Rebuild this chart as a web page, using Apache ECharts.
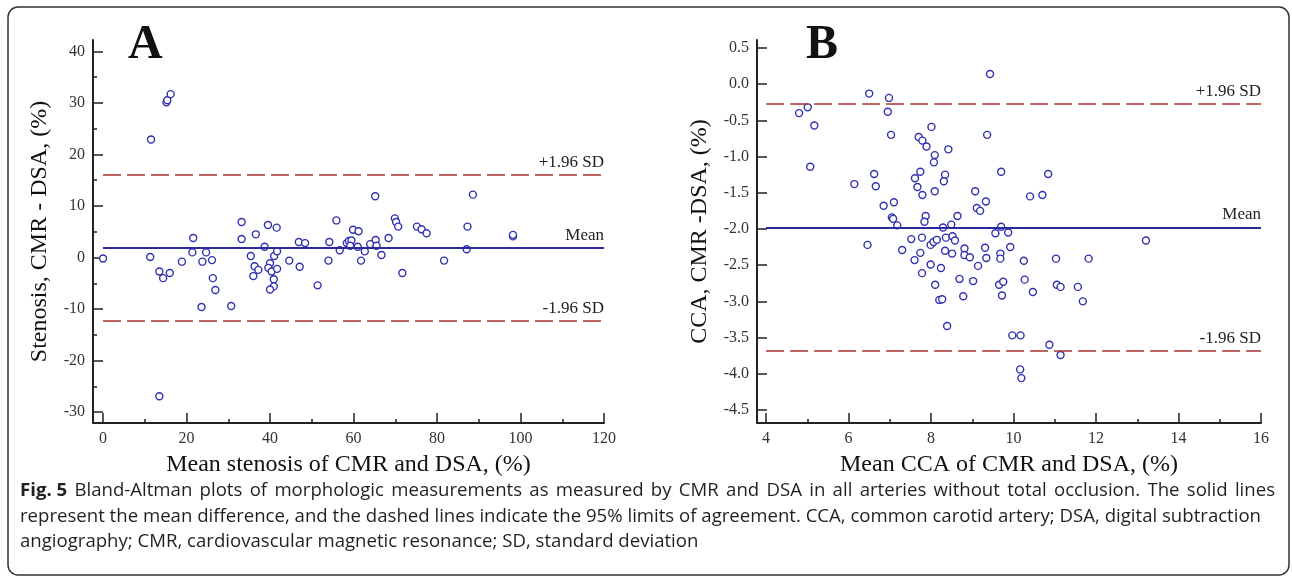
<!DOCTYPE html>
<html>
<head>
<meta charset="utf-8">
<script src="https://cdn.jsdelivr.net/npm/echarts@6/dist/echarts.min.js"></script>
<style>
  html, body { margin: 0; padding: 0; background: #fff; }
  #chart { width: 1292px; height: 580px; }
</style>
</head>
<body>
<div id="chart"></div>
<script>
// panel A: stenosis (%), mean of CMR & DSA vs difference
var stenosisMean = [0, 11.5, 15.2, 15.4, 16.2, 11.3, 13.5, 14.4, 16, 13.5, 18.9, 21.6, 21.4, 23.8, 24.7, 26.1, 26.3, 26.9, 23.6, 30.7,
  33.2, 33.2, 36.6, 35.4, 36.3, 37.2, 36, 38.7, 39.5, 41.6, 41, 41.7, 40, 39.6, 40.4, 41.7, 40.9, 40.9, 40, 44.6,
  47.1, 46.9, 48.4, 51.4, 54.0, 54.2, 55.9, 56.7, 58.4, 58.9, 59.5, 59.2, 59.9, 61.2, 61, 61.8, 62.7, 64, 65.3, 65.5,
  65.2, 66.7, 68.4, 69.9, 70.2, 70.7, 71.7, 75.2, 76.3, 77.5, 81.7, 87.3, 87.1, 88.6, 98.2, 98.2];
var stenosisDiff = [-0.2, 22.9, 30.1, 30.5, 31.7, 0.1, -2.7, -4.0, -3, -26.9, -0.8, 3.8, 1.0, -0.8, 1.0, -0.5, -4.0, -6.3, -9.6, -9.4,
  6.9, 3.6, 4.5, 0.3, -1.7, -2.4, -3.6, 2.1, 6.3, 5.8, 0.3, 1.2, -1.1, -2.0, -2.7, -2.2, -4.2, -5.6, -6.2, -0.6,
  -1.8, 3.0, 2.8, -5.4, -0.6, 3.0, 7.2, 1.4, 2.8, 3.2, 3.3, 2.3, 5.4, 5.1, 2.1, -0.6, 1.2, 2.6, 3.4, 2.3,
  11.9, 0.5, 3.8, 7.6, 6.9, 6.0, -3.0, 6.0, 5.5, 4.7, -0.6, 6.0, 1.6, 12.2, 4.1, 4.4];
var stenosisLimits = [16.0, 1.9, -12.3];

// panel B: CCA (%)
var ccaMean = [4.80, 5.01, 5.17, 5.07, 6.50, 6.98, 6.95, 7.03, 6.14, 6.62, 6.66, 6.85, 7.10, 8.01, 7.70, 7.79, 7.89, 8.09, 8.07, 7.74,
  7.61, 7.67, 7.79, 8.09, 7.05, 7.08, 7.18, 7.87, 7.84, 6.46, 7.30, 7.52, 7.78, 7.74, 7.60, 7.99, 8.06, 8.14, 7.99, 7.78,
  8.10, 8.20, 9.43, 9.36, 8.42, 8.34, 8.31, 9.70, 10.84, 9.07, 9.33, 9.11, 10.40, 10.70, 9.19, 8.64, 8.49, 8.29, 9.70, 9.56,
  9.87, 8.36, 8.52, 8.58, 8.34, 8.51, 8.81, 8.81, 8.94, 9.31, 9.34, 9.92, 9.68, 9.68, 9.14, 10.25, 11.03, 11.82, 8.24, 8.69,
  9.02, 9.65, 9.75, 10.27, 11.05, 11.14, 11.56, 10.47, 8.27, 8.78, 9.72, 11.68, 8.39, 9.97, 10.17, 10.87, 11.14, 10.16, 10.19, 13.21];
var ccaDiff = [-0.40, -0.32, -0.57, -1.14, -0.13, -0.19, -0.38, -0.70, -1.38, -1.24, -1.41, -1.68, -1.63, -0.59, -0.73, -0.78, -0.86, -0.98, -1.08, -1.21,
  -1.30, -1.42, -1.53, -1.48, -1.84, -1.86, -1.95, -1.82, -1.90, -2.22, -2.29, -2.14, -2.12, -2.33, -2.43, -2.22, -2.18, -2.15, -2.49, -2.61,
  -2.77, -2.98, 0.14, -0.70, -0.90, -1.25, -1.34, -1.21, -1.24, -1.48, -1.62, -1.71, -1.55, -1.53, -1.75, -1.82, -1.94, -1.98, -1.97, -2.06,
  -2.05, -2.12, -2.10, -2.16, -2.30, -2.34, -2.27, -2.36, -2.39, -2.26, -2.40, -2.25, -2.34, -2.41, -2.51, -2.44, -2.41, -2.41, -2.54, -2.69,
  -2.72, -2.77, -2.73, -2.70, -2.77, -2.80, -2.80, -2.87, -2.97, -2.93, -2.92, -3.00, -3.34, -3.47, -3.47, -3.60, -3.74, -3.94, -4.06, -2.16];
var ccaLimits = [-0.27, -1.98, -3.68];

var limitNames = ['+1.96 SD', 'Mean', '-1.96 SD'];
var stenosisTicksX = [0, 20, 40, 60, 80, 100, 120];
var stenosisMinorX = [10, 30, 50, 70, 90, 110];
var stenosisTicksY = [-30, -20, -10, 0, 10, 20, 30, 40];
var stenosisMinorY = [-25, -15, -5, 5, 15, 25, 35];
var ccaTicksX = [4, 6, 8, 10, 12, 14, 16];
var ccaMinorX = [5, 7, 9, 11, 13, 15];
var ccaTicksY = [-4.5, -4.0, -3.5, -3.0, -2.5, -2.0, -1.5, -1.0, -0.5, 0.0, 0.5];

var captionBold = 'Fig. 5';
var captionLines = [
  'Bland-Altman plots of morphologic measurements as measured by CMR and DSA in all arteries without total occlusion. The solid lines',
  'represent the mean difference, and the dashed lines indicate the 95% limits of agreement. CCA, common carotid artery; DSA, digital subtraction',
  'angiography; CMR, cardiovascular magnetic resonance; SD, standard deviation'
];

var serif = 'Liberation Serif';
var textCol = '#222';
var axisCol = '#222';

function zip(a, b) {
  return a.map(function (v, i) { return [v, b[i]]; });
}

function majorAxis(gridIndex, min, max, ticks, name, nameGap, fmt, isY) {
  return {
    type: 'value', gridIndex: gridIndex, min: min, max: max,
    position: isY ? 'left' : 'bottom',
    name: name, nameLocation: 'middle', nameGap: nameGap,
    nameTextStyle: { fontFamily: serif, fontSize: 24, color: '#111' },
    axisLine: { show: true, onZero: false, lineStyle: { color: axisCol, width: 2 } },
    axisTick: { show: true, inside: true, length: 10, customValues: ticks, lineStyle: { color: axisCol, width: 1.5 } },
    axisLabel: { customValues: ticks, margin: 8, fontFamily: serif, fontSize: 16, color: '#333', formatter: fmt },
    splitLine: { show: false }
  };
}

function minorAxis(gridIndex, min, max, ticks, isY) {
  return {
    type: 'value', gridIndex: gridIndex, min: min, max: max,
    position: isY ? 'left' : 'bottom', offset: 0,
    axisLine: { show: false, onZero: false },
    axisTick: { show: true, inside: true, length: 4, customValues: ticks, lineStyle: { color: axisCol, width: 1.5 } },
    axisLabel: { show: false },
    splitLine: { show: false }
  };
}

function limitLines(vals, x0, x1, digits) {
  var out = [];
  vals.forEach(function (v, i) {
    var style = i === 1
      ? { color: '#2a2a9c', width: 2, type: 'solid' }
      : { color: '#a83535', width: 1.6, type: [18, 6] };
    var lab = { fontFamily: serif, fontSize: 17, color: textCol, distance: [0, 4] };
    out.push([
      { coord: [x0, v], lineStyle: style, label: Object.assign({ position: 'insideEndTop', formatter: limitNames[i] }, lab) },
      { coord: [x1, v] }
    ]);
    out.push([
      { coord: [x0, v], lineStyle: Object.assign({}, style, { opacity: 0 }),
        label: Object.assign({ position: 'insideEndBottom', formatter: v.toFixed(digits) }, lab) },
      { coord: [x1, v] }
    ]);
  });
  return out;
}

function scatter(xi, yi, data, lines) {
  return {
    type: 'scatter', xAxisIndex: xi, yAxisIndex: yi, data: data,
    symbol: 'circle', symbolSize: 7,
    itemStyle: { color: '#fff', borderColor: '#3030b0', borderWidth: 1.4, opacity: 1 },
    markLine: { silent: true, symbol: 'none', animation: false, data: lines },
    z: 3
  };
}

// caption: first line is justified to the frame width
var capFont = 'Open Sans';
var capSize = 18.6;
var capLeft = 20, capRight = 1275;
var ctx = document.createElement('canvas').getContext('2d');
function textW(t, bold) {
  ctx.font = (bold ? 'bold ' : '') + capSize + 'px "' + capFont + '"';
  return ctx.measureText(t).width;
}
var words1 = captionLines[0].split(' ');
var natural1 = textW(captionBold, true) + textW(' ' + captionLines[0], false);
var spaceW = textW(' ', false) + (capRight - capLeft - natural1) / words1.length;
var line1 = '{b|' + captionBold + '}{s| }' + words1.join('{s| }');

var chart = echarts.init(document.getElementById('chart'));
var option = {
  backgroundColor: '#fff',
  animation: false,
  grid: [
    { left: 93, top: 40, width: 511, height: 383 },
    { left: 757, top: 40, width: 504, height: 383 }
  ],
  xAxis: [
    majorAxis(0, -2.4, 120, stenosisTicksX, 'Mean stenosis of CMR and DSA, (%)', 30, null, false),
    minorAxis(0, -2.4, 120, stenosisMinorX, false),
    majorAxis(1, 3.78, 16, ccaTicksX, 'Mean CCA of CMR and DSA, (%)', 30, null, false),
    minorAxis(1, 3.78, 16, ccaMinorX, false)
  ],
  yAxis: [
    majorAxis(0, -32.1, 42.2, stenosisTicksY, 'Stenosis, CMR - DSA, (%)', 41, null, true),
    minorAxis(0, -32.1, 42.2, stenosisMinorY, true),
    majorAxis(1, -4.68, 0.61, ccaTicksY, 'CCA, CMR -DSA, (%)', 45, function (v) { return v.toFixed(1); }, true)
  ],
  series: [
    scatter(0, 0, zip(stenosisMean, stenosisDiff), limitLines(stenosisLimits, 0, 120, 1)),
    scatter(2, 2, zip(ccaMean, ccaDiff), limitLines(ccaLimits, 4, 16, 2))
  ],
  graphic: [
    { type: 'rect', shape: { x: 8, y: 7, width: 1281, height: 568, r: 10 }, style: { fill: 'none', stroke: '#333', lineWidth: 1.5 }, silent: true },
    { type: 'text', left: 128, top: 22, style: { text: 'A', font: 'bold 48px "Liberation Serif"', fill: '#111' } },
    { type: 'text', left: 806, top: 22, style: { text: 'B', font: 'bold 48px "Liberation Serif"', fill: '#111' } },
    { type: 'text', left: capLeft, top: 481, style: {
        text: line1,
        rich: {
          b: { fontWeight: 'bold', fontFamily: capFont, fontSize: capSize, fill: '#231f20' },
          s: { width: spaceW, fontFamily: capFont, fontSize: capSize }
        },
        fontFamily: capFont, fontSize: capSize, fill: '#231f20' } },
    { type: 'text', left: capLeft, top: 507, style: {
        text: captionLines[1], fontFamily: capFont, fontSize: capSize, fill: '#231f20' } },
    { type: 'text', left: capLeft, top: 532, style: {
        text: captionLines[2], fontFamily: capFont, fontSize: capSize, fill: '#231f20' } }
  ]
};
chart.setOption(option);
</script>
</body>
</html>
